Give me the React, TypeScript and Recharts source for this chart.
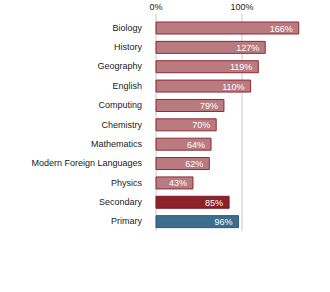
import React from "react";
import { BarChart, Bar, XAxis, YAxis, CartesianGrid, LabelList, Cell } from "recharts";

const categories = ["Biology", "History", "Geography", "English", "Computing", "Chemistry", "Mathematics", "Modern Foreign Languages", "Physics", "Secondary", "Primary"];
const values = [166, 127, 119, 110, 79, 70, 64, 62, 43, 85, 96];
const kinds = ["subject", "subject", "subject", "subject", "subject", "subject", "subject", "subject", "subject", "secondary", "primary"];
const xTicks = [0, 100];

const fills: Record<string, string> = { subject: "#ba7b80", secondary: "#8c2329", primary: "#3c6d8e" };
const strokes: Record<string, string> = { subject: "#8d2b32", secondary: "#7a1c22", primary: "#2d5875" };

const FONT = "'Liberation Sans', Arial, sans-serif";

const data = categories.map((c, i) => ({ name: c, value: values[i], kind: kinds[i] }));

const ValueLabel = (props: any) => {
  const { x, y, width, height, value } = props;
  return (
    <text x={x + width - 6} y={y + height / 2 + 0.5} textAnchor="end" dominantBaseline="central" fill="#ffffff" style={{ fontSize: 9, fontFamily: FONT }}>
      {value}%
    </text>
  );
};

const YTick = (props: any) => {
  const { x, y, payload } = props;
  return (
    <text x={x - 6} y={y} textAnchor="end" dominantBaseline="central" fill="#1a1a1a" style={{ fontSize: 9, fontFamily: FONT }}>
      {payload.value}
    </text>
  );
};

const XTick = (props: any) => {
  const { x, payload } = props;
  return (
    <text x={x} y={7} textAnchor="middle" dominantBaseline="central" fill="#1a1a1a" style={{ fontSize: 9, fontFamily: FONT }}>
      {payload.value}%
    </text>
  );
};

export default function App() {
  return (
    <div style={{ position: "absolute", left: 0, top: 0, width: 330, height: 292, background: "#fff", fontFamily: FONT }}>
      <BarChart width={330} height={292} data={data} layout="vertical" margin={{ top: 0, right: 2, bottom: 61, left: 0 }} barSize={12}>
        <CartesianGrid horizontal={false} vertical={true} stroke="#c8c8c8" syncWithTicks={true} />
        <XAxis type="number" orientation="top" domain={[0, 200]} ticks={xTicks} axisLine={false} tickLine={false} height={14} tick={XTick} />
        <YAxis type="category" dataKey="name" width={156} axisLine={false} tickLine={false} padding={{ top: 4, bottom: 0 }} interval={0} tick={YTick} />
        <Bar dataKey="value" isAnimationActive={false} strokeWidth={1}>
          {data.map((d, i) => (
            <Cell key={i} fill={fills[d.kind]} stroke={strokes[d.kind]} />
          ))}
          <LabelList dataKey="value" content={ValueLabel} />
        </Bar>
      </BarChart>
    </div>
  );
}
